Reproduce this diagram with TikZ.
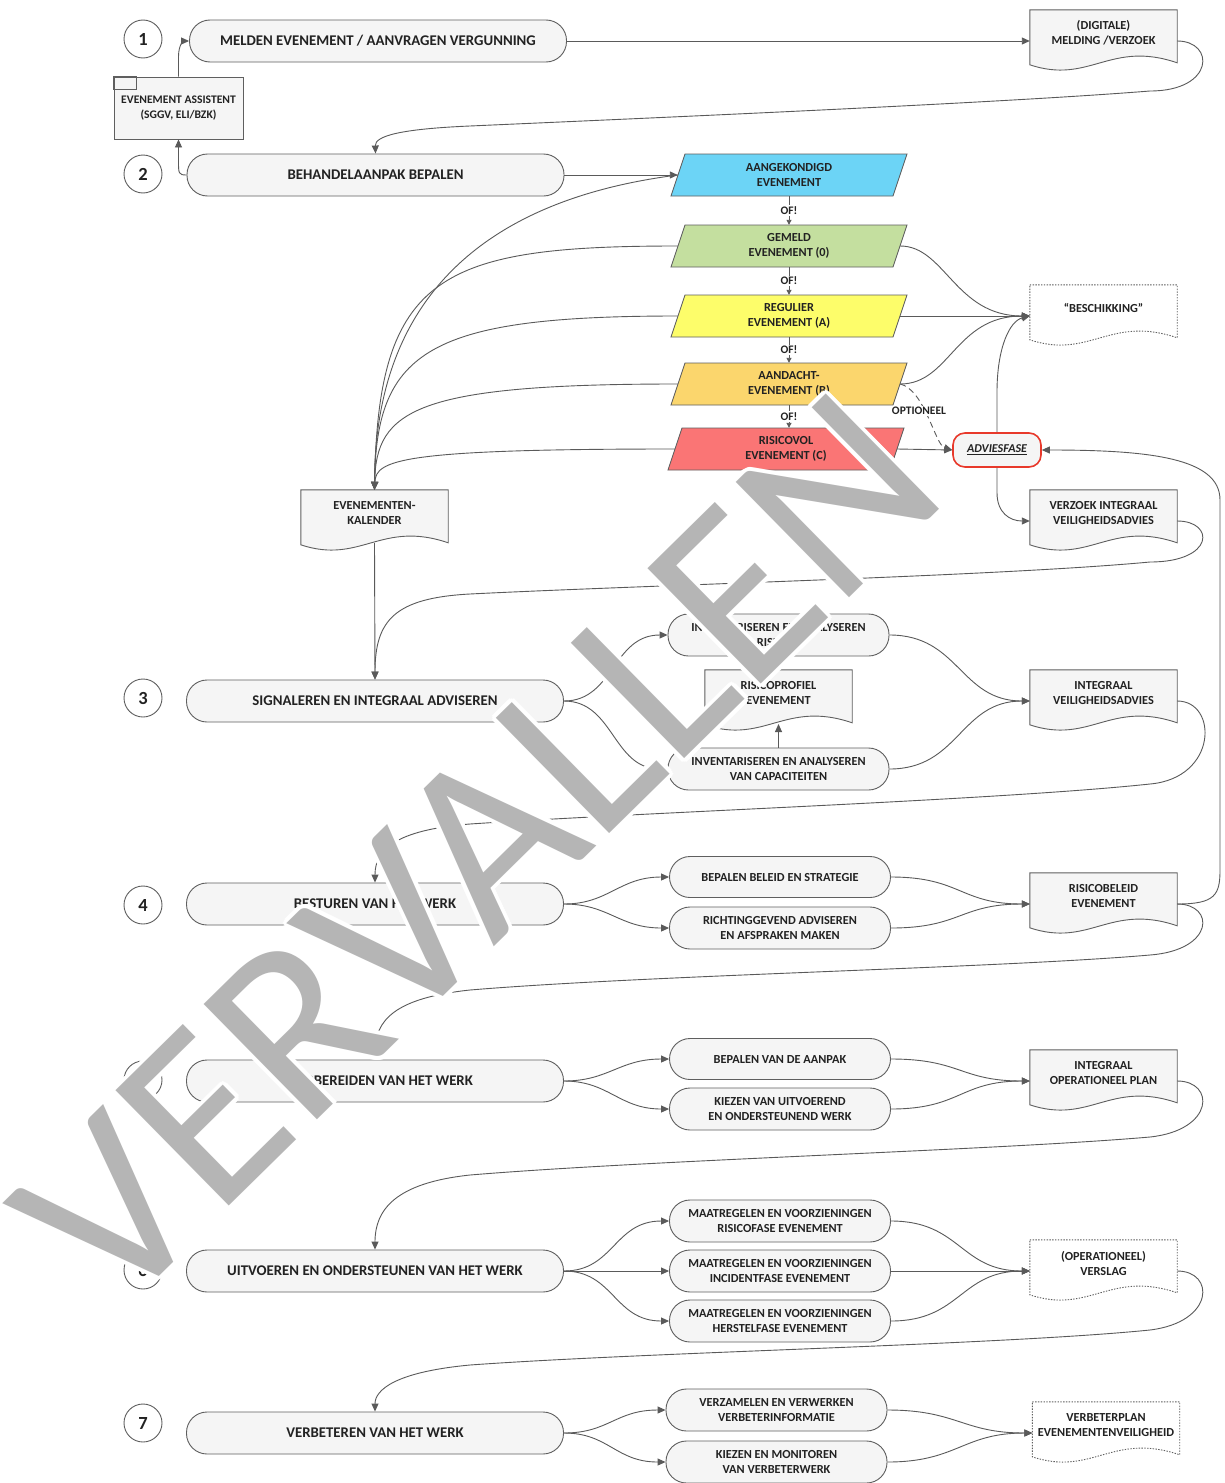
\documentclass[tikz,border=0pt]{standalone}
\usepackage{fontspec}
\setmainfont{Carlito}
\usetikzlibrary{arrows.meta,calc}

\definecolor{rimgray}{HTML}{5F5F5F}
\definecolor{ln}{HTML}{5A5A5A}
\definecolor{tx}{HTML}{222222}
\definecolor{pillfill}{HTML}{F5F5F5}
\definecolor{cAang}{HTML}{6CD4F6}
\definecolor{cGem}{HTML}{C4DF9F}
\definecolor{cReg}{HTML}{FDFD6A}
\definecolor{cAand}{HTML}{FBD66D}
\definecolor{cRis}{HTML}{FA7575}
\definecolor{advred}{HTML}{E8392B}
\definecolor{markgray}{HTML}{B5B5B5}

\tikzset{
  link/.style={draw=ln, line width=0.9pt, -{Triangle[length=8pt,width=7pt]}},
  smalllink/.style={draw=ln, line width=0.9pt, -{Triangle[length=5pt,width=5pt]}},
  mainpill/.style={rectangle, rounded corners=20.5pt, draw=rimgray, line width=0.9pt,
    fill=pillfill, minimum width=377pt, minimum height=42pt, inner sep=0pt, text=tx,
    font=\fontsize{14.8}{17}\selectfont\bfseries},
  subpill/.style={mainpill, minimum width=221pt, align=center,
    font=\fontsize{12.3}{15}\selectfont\bfseries},
  numbadge/.style={circle, draw=rimgray, line width=0.9pt, fill=white, minimum size=38pt,
    inner sep=0pt, text=tx, font=\fontsize{18.5}{20}\selectfont\bfseries},
  docframe/.style={rectangle, minimum width=147pt, minimum height=62pt, inner sep=0pt},
  doclabel/.style={align=center, inner sep=0pt, text=tx, font=\fontsize{12.3}{15}\selectfont\bfseries},
  docsolid/.style={draw=rimgray, line width=0.9pt, fill=pillfill},
  docdotted/.style={draw=rimgray, line width=0.9pt, dash pattern=on 1.4pt off 1.4pt, fill=white},
  paralabel/.style={rectangle, minimum width=222pt, minimum height=42pt, inner sep=0pt,
    align=center, text=tx, font=\fontsize{12.3}{15}\selectfont\bfseries},
  paraface/.style={draw=rimgray, line width=0.9pt},
  orlabel/.style={fill=white, inner sep=1.5pt, text=tx, font=\fontsize{11.5}{13}\selectfont\bfseries},
  watermark/.style={rotate=44.5, inner sep=0pt, font=\fontsize{252}{252}\selectfont},
}

% document symbol: rectangle with a wavy lower edge
\newcommand{\docshape}[4]{%
  \node[docframe] (#2) at #3 {};
  \path[#1] (#2.north west) -- (#2.north east) -- ($(#2.north east)+(0,53)$)
    .. controls ($(#2.north west)+(80,30)$) and ($(#2.north west)+(60,75)$) ..
    ($(#2.north west)+(0,55)$) -- cycle;
  \node[doclabel] (#2-label) at ($(#2.center)+(0,-8)$) {#4};
}

% data symbol: slanted parallelogram with its label node on top
\newcommand{\parashape}[4]{%
  \path[paraface, fill=#3] ($#2+(-104,-21)$) -- ($#2+(118,-21)$) -- ($#2+(104,21)$)
    -- ($#2+(-118,21)$) -- cycle;
  \node[paralabel] (#1) at #2 {#4};
}

\begin{document}
\begin{tikzpicture}[x=1pt,y=-1pt]
\fill[white] (0,0) rectangle (1225,1483);
\useasboundingbox (0,0) rectangle (1225,1483);

% step numbers
\node[numbadge] (n1) at (143,39) {1};
\node[numbadge] (n2) at (143,174) {2};
\node[numbadge] (n3) at (143,698) {3};
\node[numbadge] (n4) at (143,905) {4};
\node[numbadge] (n5) at (143,1080) {5};
\node[numbadge] (n6) at (143,1270) {6};
\node[numbadge] (n7) at (143,1423) {7};

% main process steps
\node[mainpill] (b1) at (378,41) {MELDEN EVENEMENT / AANVRAGEN VERGUNNING};
\node[mainpill] (b2) at (375.5,175) {BEHANDELAANPAK BEPALEN};
\node[mainpill] (b3) at (375,701) {SIGNALEREN EN INTEGRAAL ADVISEREN};
\node[mainpill] (b4) at (375,904) {BESTUREN VAN HET WERK};
\node[mainpill] (b5) at (375,1081) {VOORBEREIDEN VAN HET WERK};
\node[mainpill] (b6) at (375,1271) {UITVOEREN EN ONDERSTEUNEN VAN HET WERK};
\node[mainpill] (b7) at (375,1433) {VERBETEREN VAN HET WERK};

% tool box
\node[rectangle, draw=rimgray, line width=0.9pt, fill=pillfill, minimum width=129pt,
  minimum height=62pt, inner sep=0pt, align=center, text=tx,
  font=\fontsize{11.6}{14.5}\selectfont\bfseries] (ass) at (178.5,108)
  {EVENEMENT ASSISTENT\\(SGGV, ELI/BZK)};
\draw[rimgray, line width=0.8pt] (ass.north west) rectangle ($(ass.north west)+(23,13)$);

% event categories
\parashape{aang}{(789,175)}{cAang}{AANGEKONDIGD\\EVENEMENT}
\parashape{gem}{(789,246)}{cGem}{GEMELD\\EVENEMENT (0)}
\parashape{reg}{(789,316)}{cReg}{REGULIER\\EVENEMENT (A)}
\parashape{aand}{(789,384)}{cAand}{AANDACHT-\\EVENEMENT (B)}
\parashape{ris}{(786,449)}{cRis}{RISICOVOL\\EVENEMENT (C)}

% advice phase
\node[rectangle, rounded corners=12pt, draw=advred, line width=1.6pt, fill=pillfill,
  minimum width=88pt, minimum height=34pt, inner sep=0pt, text=tx,
  font=\fontsize{12}{14}\selectfont\bfseries\itshape] (adv) at (997,450) {\underline{ADVIESFASE}};

% documents
\docshape{docsolid}{dig}{(1103.5,41)}{(DIGITALE)\\MELDING /VERZOEK}
\docshape{docdotted}{besch}{(1103.5,316)}{“BESCHIKKING”}
\docshape{docsolid}{verz}{(1103.5,521)}{VERZOEK INTEGRAAL\\VEILIGHEIDSADVIES}
\docshape{docsolid}{kal}{(374.5,521)}{EVENEMENTEN-\\KALENDER}
\docshape{docsolid}{prof}{(778.5,701)}{RISICOPROFIEL\\EVENEMENT}
\docshape{docsolid}{iva}{(1103.5,701)}{INTEGRAAL\\VEILIGHEIDSADVIES}
\docshape{docsolid}{rb}{(1103.5,904)}{RISICOBELEID\\EVENEMENT}
\docshape{docsolid}{iop}{(1103.5,1081)}{INTEGRAAL\\OPERATIONEEL PLAN}
\docshape{docdotted}{vsl}{(1103.5,1271)}{(OPERATIONEEL)\\VERSLAG}
\docshape{docdotted}{vbp}{(1106,1433)}{VERBETERPLAN\\EVENEMENTENVEILIGHEID}

% sub-activities
\node[subpill] (s3a) at (778.5,635) {INVENTARISEREN EN ANALYSEREN\\RISICO’S};
\node[subpill] (s3b) at (778.5,769) {INVENTARISEREN EN ANALYSEREN\\VAN CAPACITEITEN};
\node[subpill, minimum height=41pt] (s4a) at (780,877) {BEPALEN BELEID EN STRATEGIE};
\node[subpill] (s4b) at (780,928) {RICHTINGGEVEND ADVISEREN\\EN AFSPRAKEN MAKEN};
\node[subpill, minimum height=41pt] (s5a) at (780,1059) {BEPALEN VAN DE AANPAK};
\node[subpill] (s5b) at (780,1109) {KIEZEN VAN UITVOEREND\\EN ONDERSTEUNEND WERK};
\node[subpill] (s6a) at (780,1221) {MAATREGELEN EN VOORZIENINGEN\\RISICOFASE EVENEMENT};
\node[subpill] (s6b) at (780,1271) {MAATREGELEN EN VOORZIENINGEN\\INCIDENTFASE EVENEMENT};
\node[subpill] (s6c) at (780,1321) {MAATREGELEN EN VOORZIENINGEN\\HERSTELFASE EVENEMENT};
\node[subpill] (s7a) at (776.5,1410) {VERZAMELEN EN VERWERKEN\\VERBETERINFORMATIE};
\node[subpill] (s7b) at (776.5,1462) {KIEZEN EN MONITOREN\\VAN VERBETERWERK};

% ---- connectors: steps 1 and 2
\draw[link] (b1.east) -- (dig.west);
\draw[link] (ass.north) -- ++(0,-20) .. controls +(0,-12) and +(-5,0) .. (b1.west);
\draw[link] (b2.west) .. controls +(-8,0) and +(0,12) .. ($(ass.south)+(0,22)$) -- (ass.south);
\draw[link] (dig.east) .. controls (1215,41) and (1215,91) .. (1150,91)
  .. controls (1000,103) and (650,118) .. (470,126)
  .. controls (400,129) and (375,136) .. (b2.north);
\draw[link] (b2.east) -- (aang.west);

% either/or chain
\draw[smalllink] (aang.south) -- (gem.north) node[midway, orlabel] (of1) {OF!};
\draw[smalllink] (gem.south) -- (reg.north) node[midway, orlabel] (of2) {OF!};
\draw[smalllink] (reg.south) -- (aand.north) node[midway, orlabel] (of3) {OF!};
\draw[smalllink] (aand.south) -- (aand.south |- ris.north) node[midway, orlabel] (of4) {OF!};

% every category feeds the calendar
\draw[link] (aang.west) .. controls (520,195) and (375,270) .. (kal.north);
\draw[link] (gem.west) .. controls (440,246) and (378,275) .. (kal.north);
\draw[link] (reg.west) .. controls (430,316) and (376,350) .. (kal.north);
\draw[link] (aand.west) .. controls (415,384) and (376,410) .. (kal.north);
\draw[link] (ris.west) .. controls (400,449) and (376,460) .. (kal.north);

% decisions
\draw[link] (gem.east) .. controls (945,246) and (955,316) .. (besch.west);
\draw[link] (reg.east) -- (besch.west);
\draw[link] (aand.east) .. controls (950,384) and (955,316) .. (besch.west);
\draw[link] (adv.north) -- ++(0,-40) .. controls +(0,-45) and +(-20,5) .. (besch.west);
\draw[link] (ris.east) -- (adv.west);
\draw[link, dash pattern=on 6pt off 4pt] (aand.east) .. controls (925,390) and (935,445) .. (adv.west);
\node[orlabel] (opt) at (919,411) {OPTIONEEL};
\draw[link] (adv.south) -- ++(0,25) .. controls +(0,20) and +(-20,0) .. (verz.west);
\draw[link] (rb.east) .. controls (1215,904) and (1220,895) .. (1220,870) -- (1220,500)
  .. controls (1220,458) and (1150,450) .. (adv.east);

% ---- step 3
\draw[link] (verz.east) .. controls (1215,521) and (1215,562) .. (1150,562)
  .. controls (1000,576) and (650,585) .. (470,594)
  .. controls (395,598) and (375,620) .. (b3.north);
\draw[link] ($(kal.center)+(0,22)$) -- (b3.north);
\draw[link] (b3.east) .. controls +(50,0) and +(-55,0) .. (s3a.west);
\draw[link] (b3.east) .. controls +(50,0) and +(-55,0) .. (s3b.west);
\draw[link] (s3a.south) -- (prof.north);
\draw[link] (s3b.north) -- ($(prof.center)+(0,23)$);
\draw[link] (s3a.east) .. controls +(70,0) and +(-70,0) .. (iva.west);
\draw[link] (s3b.east) .. controls +(70,0) and +(-70,0) .. (iva.west);

% ---- step 4
\draw[link] (iva.east) .. controls (1218,701) and (1218,778) .. (1150,784)
  .. controls (1000,800) and (650,812) .. (470,824)
  .. controls (395,830) and (375,850) .. (b4.north);
\draw[link] (b4.east) .. controls +(45,0) and +(-50,0) .. (s4a.west);
\draw[link] (b4.east) .. controls +(45,0) and +(-50,0) .. (s4b.west);
\draw[link] (s4a.east) .. controls +(70,0) and +(-70,0) .. (rb.west);
\draw[link] (s4b.east) .. controls +(70,0) and +(-70,0) .. (rb.west);

% ---- step 5
\draw[link] (rb.east) .. controls (1215,904) and (1215,950) .. (1150,955)
  .. controls (1000,968) and (650,975) .. (470,990)
  .. controls (395,998) and (375,1020) .. (b5.north);
\draw[link] (b5.east) .. controls +(45,0) and +(-50,0) .. (s5a.west);
\draw[link] (b5.east) .. controls +(45,0) and +(-50,0) .. (s5b.west);
\draw[link] (s5a.east) .. controls +(70,0) and +(-70,0) .. (iop.west);
\draw[link] (s5b.east) .. controls +(70,0) and +(-70,0) .. (iop.west);

% ---- step 6
\draw[link] (iop.east) .. controls (1215,1081) and (1215,1130) .. (1150,1137)
  .. controls (1000,1150) and (650,1160) .. (470,1175)
  .. controls (395,1183) and (375,1210) .. (b6.north);
\draw[link] (b6.east) .. controls +(50,0) and +(-55,0) .. (s6a.west);
\draw[link] (b6.east) -- (s6b.west);
\draw[link] (b6.east) .. controls +(50,0) and +(-55,0) .. (s6c.west);
\draw[link] (s6a.east) .. controls +(70,0) and +(-70,0) .. (vsl.west);
\draw[link] (s6b.east) -- (vsl.west);
\draw[link] (s6c.east) .. controls +(70,0) and +(-70,0) .. (vsl.west);

% ---- step 7
\draw[link] (vsl.east) .. controls (1215,1271) and (1215,1322) .. (1150,1330)
  .. controls (1000,1345) and (650,1352) .. (470,1365)
  .. controls (395,1372) and (375,1390) .. (b7.north);
\draw[link] (b7.east) .. controls +(45,0) and +(-50,0) .. (s7a.west);
\draw[link] (b7.east) .. controls +(45,0) and +(-50,0) .. (s7b.west);
\draw[link] (s7a.east) .. controls +(70,0) and +(-70,0) .. (vbp.west);
\draw[link] (s7b.east) .. controls +(70,0) and +(-70,0) .. (vbp.west);

% ---- stamp across the sheet
\coordinate (stamp) at (477,850);
\foreach \ang in {0,30,...,330}
  \node[watermark, text=white] (halo\ang) at ($(stamp)+(\ang:4)$) {VERVALLEN};
\node[watermark, text=markgray] (stamptext) at (stamp) {VERVALLEN};
\end{tikzpicture}
\end{document}
